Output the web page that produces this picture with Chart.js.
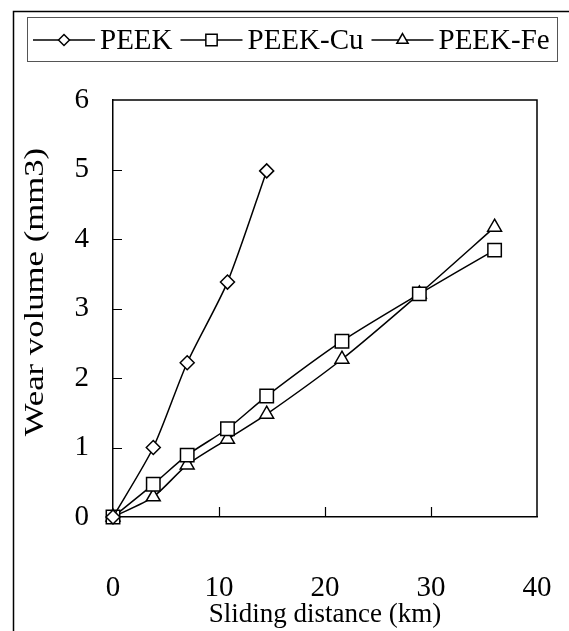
<!DOCTYPE html>
<html>
<head>
<meta charset="utf-8">
<script src="https://cdn.jsdelivr.net/npm/chart.js@4/dist/chart.umd.min.js"></script>
<style>
  html, body { margin: 0; padding: 0; background: #fff; }
  #wrap { width: 569px; height: 631px; }
</style>
</head>
<body>
<div id="wrap"><canvas id="chart" width="569" height="631"></canvas></div>
<script>
// sliding distance (km)
const distPeek = [0, 3.8, 7.0, 10.8, 14.5];
const distComposite = [0, 3.8, 7.0, 10.8, 14.5, 21.6, 28.9, 36.0];

// wear volume (mm3)
const wearPeek = [0, 1.0, 2.22, 3.38, 4.98];
const wearCu = [0, 0.47, 0.89, 1.27, 1.74, 2.53, 3.21, 3.84];
const wearFe = [0, 0.29, 0.75, 1.12, 1.48, 2.27, 3.21, 4.17];

const seriesNames = ['PEEK', 'PEEK-Cu', 'PEEK-Fe'];
const xTicks = [0, 10, 20, 30, 40];
const yTicks = [0, 1, 2, 3, 4, 5, 6];

const FONT = "'Liberation Serif', 'Times New Roman', serif";

const toPoints = (xs, ys) => xs.map((x, i) => ({ x: x, y: ys[i] }));

const markerStyle = (style, r) => ({
    pointStyle: style,
    pointRadius: r,
    pointHoverRadius: r,
    pointBackgroundColor: '#fff',
    pointBorderColor: '#000',
    pointBorderWidth: 1.5
});

// draws the box round the plot, inward ticks, the frames and the legend
const decorations = {
    id: 'decorations',
    beforeDatasetsDraw(chart) {
        const ctx = chart.ctx;
        const area = chart.chartArea;
        const xs = chart.scales.x, ys = chart.scales.y;
        ctx.save();
        ctx.strokeStyle = '#000';
        ctx.lineWidth = 1.5;
        ctx.beginPath();
        ctx.moveTo(area.left, area.top);
        ctx.lineTo(area.right, area.top);
        ctx.lineTo(area.right, area.bottom);
        ctx.stroke();

        ctx.lineWidth = 1.2;
        ctx.beginPath();
        yTicks.forEach(v => {
            if (v === 0 || v === 6) return;
            const py = Math.round(ys.getPixelForValue(v)) + 0.5;
            ctx.moveTo(area.left, py);
            ctx.lineTo(area.left + 9, py);
        });
        xTicks.forEach(v => {
            if (v === 0 || v === 40) return;
            const px = Math.round(xs.getPixelForValue(v)) + 0.5;
            ctx.moveTo(px, area.bottom);
            ctx.lineTo(px, area.bottom - 10);
        });
        ctx.stroke();
        ctx.restore();
    },
    afterDraw(chart) {
        const ctx = chart.ctx;
        ctx.save();
        ctx.strokeStyle = '#000';

        // outer frame
        ctx.lineWidth = 1.5;
        ctx.strokeRect(13.5, 11.5, 620, 700);

        // y title, a little stretched along its length like the original
        ctx.save();
        ctx.translate(36, 292);
        ctx.rotate(-Math.PI / 2);
        ctx.scale(1.24, 1);
        ctx.font = '28px ' + FONT;
        ctx.fillStyle = '#000';
        ctx.textAlign = 'center';
        ctx.textBaseline = 'middle';
        ctx.fillText('Wear volume (mm3)', 0, 0);
        ctx.restore();

        // legend
        ctx.lineWidth = 1;
        ctx.strokeStyle = '#555';
        ctx.strokeRect(27.5, 17.5, 530, 44);
        ctx.font = '29px ' + FONT;
        ctx.textBaseline = 'middle';
        ctx.textAlign = 'left';
        let x = 33;
        const ly = 40;
        chart.data.datasets.forEach(ds => {
            ctx.strokeStyle = '#000';
            ctx.lineWidth = 1.5;
            ctx.beginPath();
            ctx.moveTo(x, ly);
            ctx.lineTo(x + 62, ly);
            ctx.stroke();
            ctx.fillStyle = '#fff';
            Chart.helpers.drawPoint(ctx, {
                pointStyle: ds.pointStyle,
                radius: ds.pointRadius - 1.5,
                borderWidth: 1.5
            }, x + 31, ly);
            x += 67;
            ctx.fillStyle = '#000';
            ctx.fillText(ds.label, x, ly + 1);
            x += ctx.measureText(ds.label).width + 8;
        });
        ctx.restore();
    }
};

new Chart(document.getElementById('chart'), {
    type: 'line',
    data: {
        datasets: [
            Object.assign({
                label: seriesNames[0],
                data: toPoints(distPeek, wearPeek),
                borderColor: '#000',
                borderWidth: 1.5,
                tension: 0.25,
                clip: false
            }, markerStyle('rectRot', 7)),
            Object.assign({
                label: seriesNames[1],
                data: toPoints(distComposite, wearCu),
                borderColor: '#000',
                borderWidth: 1.5,
                tension: 0.25,
                clip: false
            }, markerStyle('rect', 9.5)),
            Object.assign({
                label: seriesNames[2],
                data: toPoints(distComposite, wearFe),
                borderColor: '#000',
                borderWidth: 1.5,
                tension: 0.25,
                clip: false
            }, markerStyle('triangle', 8))
        ]
    },
    options: {
        responsive: false,
        animation: false,
        devicePixelRatio: 1,
        layout: { padding: { left: 0, right: 32, top: 100, bottom: 0 } },
        plugins: {
            legend: { display: false },
            tooltip: { enabled: false }
        },
        scales: {
            x: {
                type: 'linear',
                min: 0,
                max: 40,
                afterBuildTicks: s => { s.ticks = xTicks.map(v => ({ value: v })); },
                afterFit: s => {
                    s.height = 114;
                    s.paddingLeft = 0;
                    s.paddingRight = 0;
                },
                grid: { display: false, drawTicks: false },
                border: { display: true, color: '#000', width: 1.5 },
                ticks: {
                    color: '#000',
                    padding: 54,
                    maxRotation: 0,
                    font: { family: FONT, size: 29 }
                },
                title: {
                    display: true,
                    text: 'Sliding distance (km)',
                    color: '#000',
                    padding: { top: -6, bottom: 0 },
                    font: { family: FONT, size: 27 }
                }
            },
            y: {
                type: 'linear',
                min: 0,
                max: 6,
                afterBuildTicks: s => { s.ticks = yTicks.map(v => ({ value: v })); },
                afterFit: s => {
                    s.width = 113;
                    s.paddingTop = 0;
                    s.paddingBottom = 0;
                },
                grid: { display: false, drawTicks: false },
                border: { display: true, color: '#000', width: 1.5 },
                ticks: {
                    color: '#000',
                    padding: 24,
                    font: { family: FONT, size: 29 }
                }
            }
        }
    },
    plugins: [decorations]
});
</script>
</body>
</html>
